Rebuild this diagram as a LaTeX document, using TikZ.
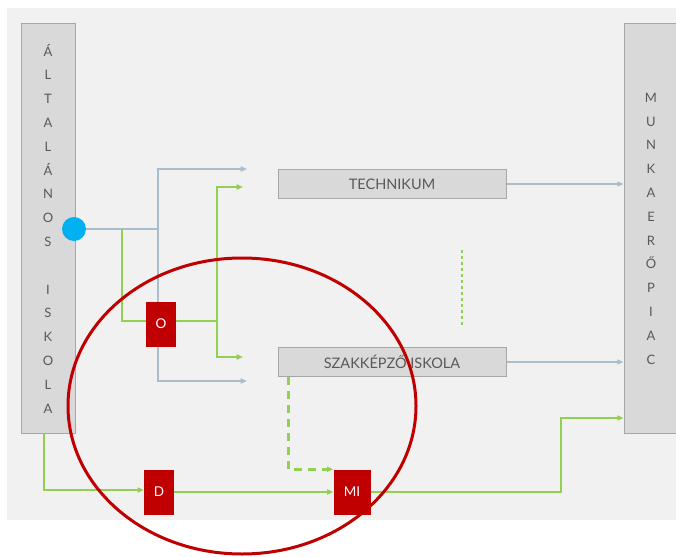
\documentclass[tikz,border=0pt]{standalone}
\usepackage{fontspec}
\setmainfont{Lato}
\usetikzlibrary{positioning, arrows.meta, calc}
\definecolor{panel}{HTML}{F1F1F1}
\definecolor{dobozsz}{HTML}{D9D9D9}
\definecolor{szoveg}{HTML}{595959}
\definecolor{kekv}{HTML}{A9BECA}
\definecolor{zoldv}{HTML}{92D050}
\definecolor{pontsz}{HTML}{00B0F0}
\definecolor{piros}{HTML}{C00000}
\pgfdeclarelayer{hatter}\pgfdeclarelayer{vonal}\pgfsetlayers{hatter,vonal,main}

\begin{document}
\begin{tikzpicture}[x=1pt,y=-1pt,>={Triangle[length=2.2mm,width=1.8mm]},
  doboz/.style={draw=black!35,fill=dobozsz,text=szoveg,line width=1pt},
  oszlop/.style={doboz,minimum width=54,minimum height=409,align=center,font=\fontsize{13}{23.8}\selectfont},
  sor/.style={doboz,minimum width=228,minimum height=29,font=\fontsize{14.5}{16}\selectfont},
  pirosd/.style={fill=piros,text=white,minimum width=30,minimum height=45,inner sep=0pt,font=\fontsize{13.5}{15}\selectfont},
  kek/.style={draw=kekv,line width=2pt},
  zold/.style={draw=zoldv,line width=2pt}]
  \useasboundingbox (0,0) rectangle (676,556);
  \begin{pgfonlayer}{hatter}\fill[panel] (7,8) rectangle (676,520);\end{pgfonlayer}
  % oszlopok
  \node[oszlop](alt) at (48,228.5){Á\\L\\T\\A\\L\\Á\\N\\O\\S\\\mbox{}\\I\\S\\K\\O\\L\\A};
  \node[oszlop](munka) at (651,228.5){M\\U\\N\\K\\A\\E\\R\\Ő\\P\\I\\A\\C};
  \node[sor](tech) at (392,184){TECHNIKUM};
  \node[sor](szak) at (392,362){SZAKKÉPZŐ ISKOLA};
  \node[circle,fill=pontsz,minimum size=24,inner sep=0pt](pont) at (74,229){};
  \node[pirosd](O) at (161,324){O};
  \node[pirosd](D) at (159,492){D};
  \node[pirosd,minimum width=37](MI) at (352,492){MI};
  \coordinate (k1) at (158,229);\coordinate (kf) at (247,169);\coordinate (ka) at (247,381);
  \coordinate (z1) at (122,229);\coordinate (z2) at (217,321);
  \coordinate (zf) at (243,187);\coordinate (za) at (243,357);
  \coordinate (m1) at (561,418);\coordinate (p1) at (462,250);\coordinate (p2) at (462,325);
  \begin{pgfonlayer}{vonal}
  \draw[kek](pont)--(k1);\draw[kek,->](k1)|-(kf);\draw[kek,->](k1)|-(ka);
  \draw[zold](z1)|-(z2);\draw[zold,->](z2)|-(zf);\draw[zold,->](z2)|-(za);
  \draw[kek,->](tech.east)--(tech.east-|munka.west);\draw[kek,->](szak.east)--(szak.east-|munka.west);
  \draw[zold,line width=1.3pt,dash pattern=on 3pt off 3pt](p1)--(p2);
  \draw[zold,line width=2.5pt,dash pattern=on 8pt off 6pt,->]([xshift=11pt]szak.south west)|-(MI.north west);
  \draw[zold,->]([xshift=-4pt]alt.south)|-([yshift=2pt]D.west);
  \draw[zold,->](D)--(MI);
  \draw[zold,->](MI.east)-|(m1)--(m1-|munka.west);
  \end{pgfonlayer}
  \draw[piros,line width=3pt](242,406) ellipse[x radius=174,y radius=148];
\end{tikzpicture}
\end{document}
